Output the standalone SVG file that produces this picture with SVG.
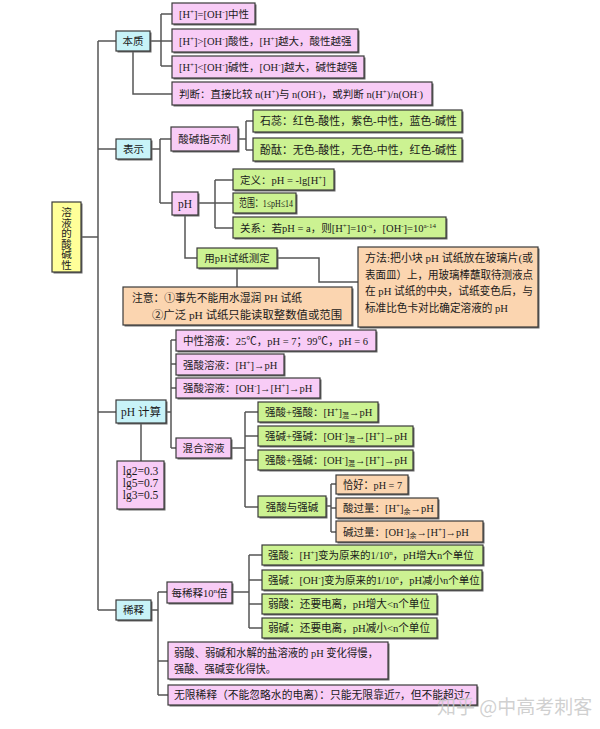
<svg xmlns="http://www.w3.org/2000/svg" width="600" height="729" viewBox="0 0 600 729">
<defs>
<style>
.bg{fill:#ffffff}
.sh{fill:#6a6a6a}
.bx{stroke:#3a3a3a;stroke-width:1.2}
.pink{fill:#f8ccf6}
.green{fill:#ccf292}
.cyan{fill:#c8f3f8}
.yellow{fill:#ffff99}
.peach{fill:#fbd5b0}
.t{font-family:"Liberation Serif","Noto Sans CJK SC",serif;font-size:11px;fill:#1a1a1a}
.m{font-size:10.5px}
.c{text-anchor:middle;font-size:10.5px}
.s{font-size:7px}
#connectors path{fill:none;stroke:#555;stroke-width:1.5}
.wm{font-family:"Noto Sans CJK SC","Noto Sans",sans-serif;font-size:19px;fill:#c8c8c8;fill-opacity:0.85}
</style>
</defs>
<rect class="bg" x="0" y="0" width="600" height="729"/>

<g id="connectors">
<path d="M81 237H98M98 41V610M98 41H116M98 149H116M98 412H116M98 610H116"/>
<path d="M150 41H161M161 14V66M161 14H172M161 41H172M161 66H172M133 51V94H172"/>
<path d="M151 149H160M160 139V203M160 139H171M160 203H172"/>
<path d="M238 139H246M246 121V150M246 121H253M246 150H253"/>
<path d="M198 203H215M215 180V228M215 180H233M215 203H233M215 228H233"/>
<path d="M185 215V258H197M237 268V287M277 258H319V282H358"/>
<path d="M166 412H171M171 340V448M171 340H176M171 364H176M171 388H176M171 448H176M141 423V461"/>
<path d="M231 448H245M245 412V507M245 412H258M245 436H258M245 460H258M245 507H258"/>
<path d="M326 506H331M331 484V532M331 484H336M331 508H336M331 532H336"/>
<path d="M151 610H158M158 592V695M158 592H167M158 661H168M158 695H168"/>
<path d="M232 592H249M249 555V628M249 555H262M249 580H262M249 604H262M249 628H262"/>
</g>

<g id="root">
<rect class="sh" x="53.5" y="203.5" width="29" height="70"/>
<rect class="bx yellow" x="52" y="202" width="29" height="70"/>
<text class="t c" x="66.5"><tspan x="66.5" y="216">溶</tspan><tspan x="66.5" y="226.5">液</tspan><tspan x="66.5" y="237">的</tspan><tspan x="66.5" y="247.5">酸</tspan><tspan x="66.5" y="258">碱</tspan><tspan x="66.5" y="268.5">性</tspan></text>
</g>

<g id="benzhi">
<rect class="sh" x="117.5" y="32.5" width="34" height="20"/>
<rect class="bx cyan" x="116" y="31" width="34" height="20"/>
<text class="t c" x="133" y="45">本质</text>
</g>
<g id="n-neutral">
<rect class="sh" x="173.5" y="4.5" width="83" height="21"/>
<rect class="bx pink" x="172" y="3" width="83" height="21"/>
<text class="t m" x="179" y="18">[H<tspan class="s" baseline-shift="4">+</tspan>]=[OH<tspan class="s" baseline-shift="4">-</tspan>]中性</text>
</g>
<g id="n-acid">
<rect class="sh" x="173.5" y="30.5" width="186" height="23"/>
<rect class="bx pink" x="172" y="29" width="186" height="23"/>
<text class="t m" x="179" y="45">[H<tspan class="s" baseline-shift="4">+</tspan>]&gt;[OH<tspan class="s" baseline-shift="4">-</tspan>]酸性，[H<tspan class="s" baseline-shift="4">+</tspan>]越大，酸性越强</text>
</g>
<g id="n-base">
<rect class="sh" x="173.5" y="57.5" width="192" height="22"/>
<rect class="bx pink" x="172" y="56" width="192" height="22"/>
<text class="t m" x="179" y="71">[H<tspan class="s" baseline-shift="4">+</tspan>]&lt;[OH<tspan class="s" baseline-shift="4">-</tspan>]碱性，[OH<tspan class="s" baseline-shift="4">-</tspan>]越大，碱性越强</text>
</g>
<g id="n-judge">
<rect class="sh" x="173.5" y="83.5" width="260" height="23"/>
<rect class="bx pink" x="172" y="82" width="260" height="23"/>
<text class="t m" x="179" y="98">判断：直接比较 n(H<tspan class="s" baseline-shift="4">+</tspan>)与 n(OH<tspan class="s" baseline-shift="4">-</tspan>)，或判断 n(H<tspan class="s" baseline-shift="4">+</tspan>)/n(OH<tspan class="s" baseline-shift="4">-</tspan>)</text>
</g>

<g id="biaoshi">
<rect class="sh" x="117.5" y="140.5" width="35" height="20"/>
<rect class="bx cyan" x="116" y="139" width="35" height="20"/>
<text class="t c" x="133.5" y="153">表示</text>
</g>
<g id="indicator">
<rect class="sh" x="172.5" y="128.5" width="67" height="24"/>
<rect class="bx pink" x="171" y="127" width="67" height="24"/>
<text class="t c" x="204.5" y="143">酸碱指示剂</text>
</g>
<g id="litmus">
<rect class="sh" x="254.5" y="111.5" width="209" height="22"/>
<rect class="bx green" x="253" y="110" width="209" height="22"/>
<text class="t" x="260" y="125" textLength="197" lengthAdjust="spacingAndGlyphs">石蕊：红色-酸性，紫色-中性，蓝色-碱性</text>
</g>
<g id="phenol">
<rect class="sh" x="254.5" y="139.5" width="209" height="23"/>
<rect class="bx green" x="253" y="138" width="209" height="23"/>
<text class="t" x="260" y="154" textLength="197" lengthAdjust="spacingAndGlyphs">酚酞：无色-酸性，无色-中性，红色-碱性</text>
</g>
<g id="ph">
<rect class="sh" x="173.5" y="193.5" width="26" height="23"/>
<rect class="bx pink" x="172" y="192" width="26" height="23"/>
<text class="t c" x="185" y="208" style="font-size:11.5px">pH</text>
</g>
<g id="ph-def">
<rect class="sh" x="234.5" y="170.5" width="101" height="21"/>
<rect class="bx green" x="233" y="169" width="101" height="21"/>
<text class="t m" x="240" y="184">定义：pH = -lg[H<tspan class="s" baseline-shift="4">+</tspan>]</text>
</g>
<g id="ph-range">
<rect class="sh" x="234.5" y="194.5" width="63" height="20"/>
<rect class="bx green" x="233" y="193" width="63" height="20"/>
<text class="t" x="239" y="207" textLength="54" lengthAdjust="spacingAndGlyphs">范围：1≤pH≤14</text>
</g>
<g id="ph-rel">
<rect class="sh" x="234.5" y="218.5" width="213" height="21"/>
<rect class="bx green" x="233" y="217" width="213" height="21"/>
<text class="t m" x="240" y="232">关系：若pH = a，则[H<tspan class="s" baseline-shift="4">+</tspan>]=10<tspan class="s" baseline-shift="4">-a</tspan>，[OH<tspan class="s" baseline-shift="4">-</tspan>]=10<tspan class="s" baseline-shift="4">a-14</tspan></text>
</g>
<g id="paper">
<rect class="sh" x="198.5" y="249.5" width="80" height="20"/>
<rect class="bx green" x="197" y="248" width="80" height="20"/>
<text class="t c" x="237" y="262">用pH试纸测定</text>
</g>
<g id="note">
<rect class="sh" x="124.5" y="288.5" width="229" height="38"/>
<rect class="bx peach" x="123" y="287" width="229" height="38"/>
<text class="t" x="132" y="302" textLength="170" lengthAdjust="spacingAndGlyphs">注意：①事先不能用水湿润 PH 试纸</text>
<text class="t" x="152" y="319" textLength="190" lengthAdjust="spacingAndGlyphs">②广泛 pH 试纸只能读取整数值或范围</text>
</g>
<g id="method">
<rect class="sh" x="359.5" y="248.5" width="180" height="80"/>
<rect class="bx peach" x="358" y="247" width="180" height="80"/>
<text class="t" x="365" y="262" textLength="168" lengthAdjust="spacingAndGlyphs">方法:把小块 pH 试纸放在玻璃片(或</text>
<text class="t" x="365" y="279" textLength="168" lengthAdjust="spacingAndGlyphs">表面皿）上，用玻璃棒蘸取待测液点</text>
<text class="t" x="365" y="295" textLength="168" lengthAdjust="spacingAndGlyphs">在 pH 试纸的中央，试纸变色后，与</text>
<text class="t" x="365" y="312" textLength="143" lengthAdjust="spacingAndGlyphs">标准比色卡对比确定溶液的 pH</text>
</g>

<g id="phcalc">
<rect class="sh" x="117.5" y="401.5" width="50" height="23"/>
<rect class="bx cyan" x="116" y="400" width="50" height="23"/>
<text class="t c" x="141" y="416" style="font-size:11.5px">pH 计算</text>
</g>
<g id="lg">
<rect class="sh" x="118.5" y="462.5" width="47" height="48"/>
<rect class="bx pink" x="117" y="461" width="47" height="48"/>
<text class="t c" x="140.5" y="475" style="font-size:11.5px">lg2=0.3</text>
<text class="t c" x="140.5" y="487" style="font-size:11.5px">lg5=0.7</text>
<text class="t c" x="140.5" y="499" style="font-size:11.5px">lg3=0.5</text>
</g>
<g id="neutral-sol">
<rect class="sh" x="177.5" y="331.5" width="200" height="21"/>
<rect class="bx pink" x="176" y="330" width="200" height="21"/>
<text class="t" x="183" y="345" textLength="185" lengthAdjust="spacingAndGlyphs">中性溶液：25℃，pH = 7；99℃，pH = 6</text>
</g>
<g id="strong-acid1">
<rect class="sh" x="177.5" y="355.5" width="108" height="21"/>
<rect class="bx pink" x="176" y="354" width="108" height="21"/>
<text class="t m" x="183" y="369">强酸溶液：[H<tspan class="s" baseline-shift="4">+</tspan>]→pH</text>
</g>
<g id="strong-acid2">
<rect class="sh" x="177.5" y="379.5" width="144" height="20"/>
<rect class="bx pink" x="176" y="378" width="144" height="20"/>
<text class="t m" x="183" y="392">强酸溶液：[OH<tspan class="s" baseline-shift="4">-</tspan>]→[H<tspan class="s" baseline-shift="4">+</tspan>]→pH</text>
</g>
<g id="mixed">
<rect class="sh" x="177.5" y="439.5" width="55" height="20"/>
<rect class="bx pink" x="176" y="438" width="55" height="20"/>
<text class="t c" x="203.5" y="452">混合溶液</text>
</g>
<g id="aa">
<rect class="sh" x="259.5" y="403.5" width="120" height="20"/>
<rect class="bx green" x="258" y="402" width="120" height="20"/>
<text class="t m" x="265" y="416">强酸+强酸：[H<tspan class="s" baseline-shift="4">+</tspan>]<tspan class="s" baseline-shift="-2">混</tspan>→pH</text>
</g>
<g id="bb">
<rect class="sh" x="259.5" y="427.5" width="155" height="20"/>
<rect class="bx green" x="258" y="426" width="155" height="20"/>
<text class="t m" x="265" y="440">强碱+强碱：[OH<tspan class="s" baseline-shift="4">-</tspan>]<tspan class="s" baseline-shift="-2">混</tspan>→[H<tspan class="s" baseline-shift="4">+</tspan>]→pH</text>
</g>
<g id="ab">
<rect class="sh" x="259.5" y="451.5" width="155" height="20"/>
<rect class="bx green" x="258" y="450" width="155" height="20"/>
<text class="t m" x="265" y="464">强酸+强碱：[OH<tspan class="s" baseline-shift="4">-</tspan>]<tspan class="s" baseline-shift="-2">混</tspan>→[H<tspan class="s" baseline-shift="4">+</tspan>]→pH</text>
</g>
<g id="avsb">
<rect class="sh" x="259.5" y="497.5" width="68" height="21"/>
<rect class="bx green" x="258" y="496" width="68" height="21"/>
<text class="t c" x="292" y="511">强酸与强碱</text>
</g>
<g id="exact">
<rect class="sh" x="337.5" y="476.5" width="72" height="19"/>
<rect class="bx peach" x="336" y="475" width="72" height="19"/>
<text class="t" x="343" y="489" textLength="59" lengthAdjust="spacingAndGlyphs">恰好：pH = 7</text>
</g>
<g id="acid-excess">
<rect class="sh" x="337.5" y="499.5" width="102" height="20"/>
<rect class="bx peach" x="336" y="498" width="102" height="20"/>
<text class="t m" x="343" y="512">酸过量：[H<tspan class="s" baseline-shift="4">+</tspan>]<tspan class="s" baseline-shift="-2">余</tspan>→pH</text>
</g>
<g id="base-excess">
<rect class="sh" x="337.5" y="522.5" width="147" height="21"/>
<rect class="bx peach" x="336" y="521" width="147" height="21"/>
<text class="t m" x="343" y="536">碱过量：[OH<tspan class="s" baseline-shift="4">-</tspan>]<tspan class="s" baseline-shift="-2">余</tspan>→[H<tspan class="s" baseline-shift="4">+</tspan>]→pH</text>
</g>

<g id="xishi">
<rect class="sh" x="117.5" y="601.5" width="35" height="20"/>
<rect class="bx cyan" x="116" y="600" width="35" height="20"/>
<text class="t c" x="133.5" y="614">稀释</text>
</g>
<g id="each">
<rect class="sh" x="168.5" y="583.5" width="65" height="21"/>
<rect class="bx pink" x="167" y="582" width="65" height="21"/>
<text class="t c" x="199.5" y="597">每稀释10<tspan class="s" baseline-shift="4">n</tspan>倍</text>
</g>
<g id="d-sa">
<rect class="sh" x="263.5" y="546.5" width="221" height="20"/>
<rect class="bx green" x="262" y="545" width="221" height="20"/>
<text class="t m" x="268" y="559">强酸：[H<tspan class="s" baseline-shift="4">+</tspan>]变为原来的1/10<tspan class="s" baseline-shift="4">n</tspan>，pH增大n个单位</text>
</g>
<g id="d-sb">
<rect class="sh" x="263.5" y="571.5" width="220" height="20"/>
<rect class="bx green" x="262" y="570" width="220" height="20"/>
<text class="t m" x="268" y="584">强碱：[OH<tspan class="s" baseline-shift="4">-</tspan>]变为原来的1/10<tspan class="s" baseline-shift="4">n</tspan>，pH减小n个单位</text>
</g>
<g id="d-wa">
<rect class="sh" x="263.5" y="595.5" width="175" height="20"/>
<rect class="bx green" x="262" y="594" width="175" height="20"/>
<text class="t" x="268" y="608" textLength="162" lengthAdjust="spacingAndGlyphs">弱酸：还要电离，pH增大&lt;n个单位</text>
</g>
<g id="d-wb">
<rect class="sh" x="263.5" y="619.5" width="175" height="20"/>
<rect class="bx green" x="262" y="618" width="175" height="20"/>
<text class="t" x="268" y="632" textLength="162" lengthAdjust="spacingAndGlyphs">弱碱：还要电离，pH减小&lt;n个单位</text>
</g>
<g id="weak">
<rect class="sh" x="169.5" y="643.5" width="220" height="37"/>
<rect class="bx pink" x="168" y="642" width="220" height="37"/>
<text class="t" x="174" y="657" textLength="204" lengthAdjust="spacingAndGlyphs">弱酸、弱碱和水解的盐溶液的 pH 变化得慢，</text>
<text class="t" x="174" y="673" textLength="102" lengthAdjust="spacingAndGlyphs">强酸、强碱变化得快。</text>
</g>
<g id="infinite">
<rect class="sh" x="169.5" y="686.5" width="309" height="20"/>
<rect class="bx pink" x="168" y="685" width="309" height="20"/>
<text class="t" x="174" y="699" textLength="296" lengthAdjust="spacingAndGlyphs">无限稀释（不能忽略水的电离）：只能无限靠近7，但不能超过7</text>
</g>

<text class="wm" x="437" y="714">知乎 @中高考刺客</text>
</svg>
